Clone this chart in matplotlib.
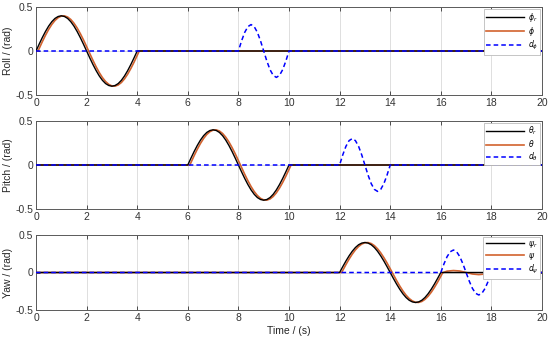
import matplotlib
matplotlib.use("Agg")
import matplotlib.pyplot as plt

plt.rcParams['font.family'] = ['Liberation Sans', 'DejaVu Sans']

# ---- data ----
x_ticks = [0, 2, 4, 6, 8, 10, 12, 14, 16, 18, 20]
y_ticks = [-0.5, 0, 0.5]
y_tick_labels = ["-0.5", "0", "0.5"]
y_labels = ["Roll / (rad)", "Pitch / (rad)", "Yaw / (rad)"]
x_label = "Time / (s)"
legend_labels = [
    [r"$\phi_r$", r"$\phi$", r"$d_\phi$"],
    [r"$\theta_r$", r"$\theta$", r"$d_\theta$"],
    [r"$\psi_r$", r"$\psi$", r"$d_\psi$"],
]

# start times of the reference manoeuvre and of the disturbance, per axis
ref_start = [0, 6, 12]
dist_start = [8, 12, 16]

# reference command shape (time since start, value)
ref_dt = [0, 0.125, 0.25, 0.375, 0.5, 0.625, 0.75, 0.875, 1.0, 1.125, 1.25, 1.375, 1.5, 1.625, 1.75, 1.875,
          2.0, 2.125, 2.25, 2.375, 2.5, 2.625, 2.75, 2.875, 3.0, 3.125, 3.25, 3.375, 3.5, 3.625, 3.75, 3.875, 4.0]
ref_wave = [0, 0.078, 0.153, 0.222, 0.283, 0.333, 0.370, 0.392, 0.400, 0.392, 0.370, 0.333, 0.283, 0.222, 0.153, 0.078,
            0, -0.078, -0.153, -0.222, -0.283, -0.333, -0.370, -0.392, -0.400, -0.392, -0.370, -0.333, -0.283, -0.222, -0.153, -0.078, 0]

# measured response shape (slightly lagging)
resp_dt = [0, 0.08, 0.125, 0.25, 0.375, 0.5, 0.625, 0.75, 0.875, 1.0, 1.125, 1.25, 1.375, 1.5, 1.625, 1.75, 1.875,
           2.0, 2.125, 2.25, 2.375, 2.5, 2.625, 2.75, 2.875, 3.0, 3.125, 3.25, 3.375, 3.5, 3.625, 3.75, 3.875, 4.0, 4.08]
resp_wave = [0, 0, 0.028, 0.106, 0.179, 0.245, 0.302, 0.347, 0.379, 0.397, 0.399, 0.386, 0.358, 0.316, 0.262, 0.198, 0.127,
             0.050, -0.028, -0.106, -0.179, -0.245, -0.302, -0.347, -0.379, -0.397, -0.399, -0.386, -0.358, -0.316, -0.262,
             -0.198, -0.127, -0.050, 0]

# disturbance shape
dist_dt = [0, 0.125, 0.25, 0.375, 0.5, 0.625, 0.75, 0.875, 1.0, 1.125, 1.25, 1.375, 1.5, 1.625, 1.75, 1.875, 2.0]
dist_wave = [0, 0.115, 0.212, 0.277, 0.300, 0.277, 0.212, 0.115, 0, -0.115, -0.212, -0.277, -0.300, -0.277, -0.212, -0.115, 0]

# small yaw response to its disturbance
yaw_extra_t = [16.1, 16.25, 16.5, 16.75, 17.0, 17.25, 17.5, 17.75, 18.0]
yaw_extra_v = [0.0, 0.018, 0.026, 0.020, 0.0, -0.020, -0.028, -0.020, 0]

t_end = 20

# ---- layout ----
W, H = 550, 339
fig = plt.figure(figsize=(W / 100, H / 100), dpi=100)
left, right = 36, 542
boxes = [(7, 95), (121, 209), (235, 310)]

axis_col = "#5a5a5a"
for i, (top, bot) in enumerate(boxes):
    ax = fig.add_axes([left / W, 1 - bot / H, (right - left) / W, (bot - top) / H])
    s0, d0 = ref_start[i], dist_start[i]
    rt = [0] + [s0 + d for d in ref_dt] + [t_end]
    rv = [0] + ref_wave + [0]
    at = [0] + [s0 + d for d in resp_dt]
    av = [0] + resp_wave
    if i == 2:
        at += yaw_extra_t
        av += yaw_extra_v
    at += [t_end]
    av += [0]
    dt = [0] + [d0 + d for d in dist_dt] + [t_end]
    dv = [0] + dist_wave + [0]

    l2, = ax.plot(at, av, color="#D2622E", lw=1.2, zorder=3)
    l1, = ax.plot(rt, rv, color="black", lw=1.0, zorder=4)
    l3, = ax.plot(dt, dv, color="#0000FF", lw=1.1, ls=(0, (3, 2)), zorder=5)
    ax.set_xlim(0, 20)
    ax.set_ylim(-0.5, 0.5)
    ax.set_xticks(x_ticks)
    ax.set_xticklabels([str(v) for v in x_ticks])
    ax.set_yticks(y_ticks)
    ax.set_yticklabels(y_tick_labels)
    ax.grid(True, color="#dedede", lw=0.7)
    ax.set_axisbelow(True)
    ax.tick_params(direction="in", length=3, width=0.6, colors="#333333",
                   labelsize=7.5, top=True, right=True, pad=2)
    for s in ax.spines.values():
        s.set_color(axis_col)
        s.set_linewidth(0.7)
    ax.set_ylabel(y_labels[i], fontsize=7.5, color="#262626", labelpad=2)
    leg = ax.legend([l1, l2, l3], legend_labels[i], loc="upper right",
                    fontsize=5.5, handlelength=5.0, handletextpad=0.5,
                    borderaxespad=0.2, borderpad=0.3, labelspacing=0.15,
                    fancybox=False, framealpha=1, edgecolor="#bbbbbb")
    leg.get_frame().set_linewidth(0.6)
    if i == 2:
        ax.set_xlabel(x_label, fontsize=7.5, color="#262626", labelpad=2)

fig.savefig("out.png", dpi=100)
